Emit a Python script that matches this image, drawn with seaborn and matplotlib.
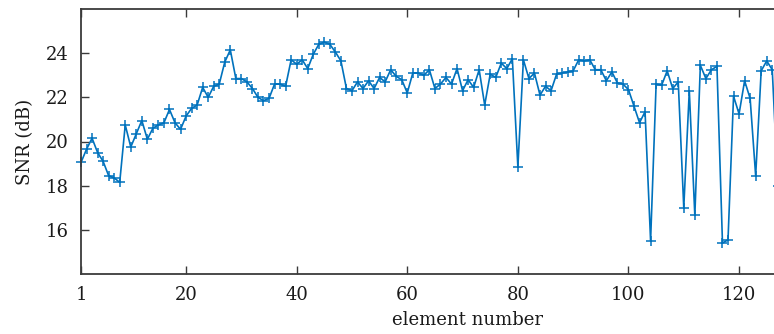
import matplotlib
matplotlib.use("Agg")
import matplotlib.pyplot as plt
import seaborn as sns
import pandas as pd

element = list(range(1, 128))
snr_db = [19.05, 19.65, 20.15, 19.5, 19.1, 18.45, 18.35, 18.15, 20.75, 19.75,
          20.35, 20.95, 20.1, 20.6, 20.75, 20.85, 21.45, 20.85, 20.55, 21.15,
          21.5, 21.65, 22.45, 22.0, 22.5, 22.6, 23.6, 24.15, 22.85, 22.85,
          22.7, 22.4, 22.0, 21.85, 21.95, 22.6, 22.6, 22.5, 23.7, 23.5,
          23.7, 23.3, 23.95, 24.4, 24.5, 24.4, 24.05, 23.65, 22.4, 22.3,
          22.7, 22.4, 22.75, 22.4, 22.9, 22.7, 23.25, 22.95, 22.8, 22.2,
          23.1, 23.1, 23.0, 23.25, 22.4, 22.6, 22.9, 22.6, 23.3, 22.3,
          22.8, 22.45, 23.25, 21.65, 23.05, 22.9, 23.55, 23.3, 23.75, 18.85,
          23.7, 22.85, 23.1, 22.1, 22.5, 22.3, 23.05, 23.1, 23.15, 23.2,
          23.7, 23.65, 23.7, 23.25, 23.25, 22.75, 23.15, 22.65, 22.6, 22.35,
          21.6, 20.85, 21.35, 15.5, 22.6, 22.55, 23.2, 22.4, 22.7, 17.0,
          22.3, 16.65, 23.45, 22.85, 23.25, 23.4, 15.4, 15.55, 22.05, 21.25,
          22.75, 21.95, 18.45, 23.2, 23.65, 23.25, 18.0]

x_ticks = [1, 20, 40, 60, 80, 100, 120]
y_ticks = [16, 18, 20, 22, 24]

df = pd.DataFrame({"element": element, "snr": snr_db})

sns.set_theme(style="ticks")
plt.rcParams["font.family"] = ["DejaVu Serif"]

fig = plt.figure(figsize=(7.74, 3.34), dpi=100)
# axes extends past the right edge of the figure (reference is cropped there)
ax = fig.add_axes([81 / 774, 1 - 274 / 334, 1.0, (274 - 9) / 334])

color = "#0072BD"
sns.lineplot(data=df, x="element", y="snr", ax=ax, color=color, linewidth=1.2,
             marker="+", markersize=7, markeredgewidth=1.1,
             markeredgecolor=color, clip_on=False)

ax.set_xlim(1, 1 + 774 / 5.53)
ax.set_ylim(14, 26)
ax.set_xticks(x_ticks)
ax.set_yticks(y_ticks)
ax.set_xlabel("element number", fontsize=13, labelpad=5, color="#1a1a1a")
ax.set_ylabel("SNR (dB)", fontsize=13, labelpad=8, color="#1a1a1a")

spine_color = "#3a3a3a"
for s in ax.spines.values():
    s.set_visible(True)
    s.set_color(spine_color)
    s.set_linewidth(1.3)

ax.tick_params(axis="both", direction="in", length=6, width=1.0,
               color=spine_color, labelsize=13, labelcolor="#1a1a1a",
               top=True, right=True, pad=9)
ax.grid(False)

fig.savefig("out.png", dpi=100)
